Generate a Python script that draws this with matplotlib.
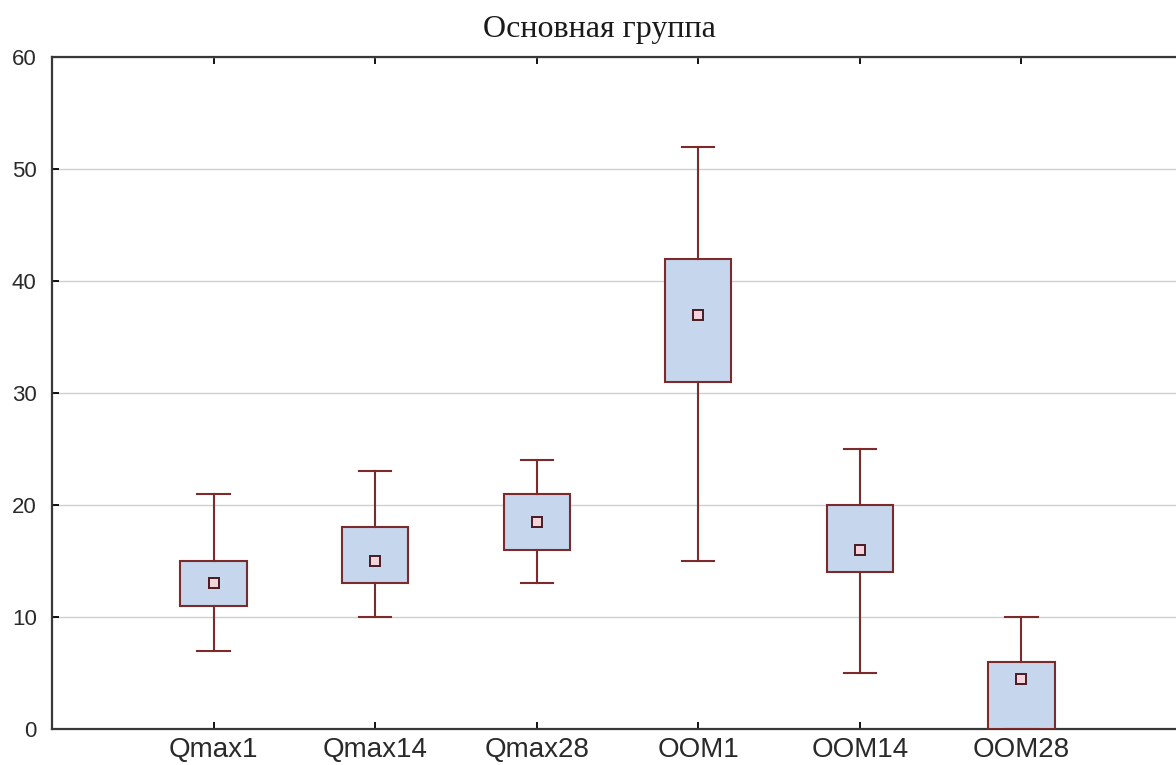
import matplotlib.pyplot as plt

labels = ['Qmax1', 'Qmax14', 'Qmax28', 'OOM1', 'OOM14', 'OOM28']
mins = [7, 10, 13, 15, 5, 0]
q1 = [11, 13, 16, 31, 14, 0]
medians = [13, 15, 18.5, 37, 16, 4.5]
q3 = [15, 18, 21, 42, 20, 6]
maxs = [21, 23, 24, 52, 25, 10]

edge = '#7b2b2b'

fig = plt.figure(figsize=(11.76, 7.65), dpi=100)
# the axes run a little past the right edge, as in the cropped original
ax = fig.add_axes([52 / 1176, 36 / 765, 1131 / 1176, 672 / 765])

stats = []
for i in range(len(labels)):
    stats.append({'label': labels[i], 'whislo': mins[i], 'q1': q1[i], 'med': medians[i],
                  'q3': q3[i], 'whishi': maxs[i]})

pos = list(range(1, len(labels) + 1))
ax.bxp(stats, positions=pos, widths=0.41, patch_artist=True, showfliers=False,
       boxprops=dict(facecolor='#c6d6ec', edgecolor=edge, linewidth=1.5),
       whiskerprops=dict(color=edge, linewidth=1.5),
       capprops=dict(color=edge, linewidth=1.5),
       medianprops=dict(linewidth=0),
       capwidths=0.2, zorder=3)
ax.plot(pos, medians, 's', markersize=7.5, markerfacecolor='#f4d4dc',
        markeredgecolor='#4a1a22', markeredgewidth=1.4, linestyle='none', zorder=4)

ax.set_xlim(0, 7)
ax.set_ylim(0, 60)
ax.set_yticks(range(0, 61, 10))
ax.set_xticks(pos)
ax.set_xticklabels(labels, fontsize=20, family='Liberation Sans', color='#2a2a2a')
for t in ax.get_yticklabels():
    t.set_fontsize(16)
    t.set_family('Liberation Sans')
    t.set_color('#2a2a2a')
ax.yaxis.grid(True, color='#d0d0d0', linewidth=1)
ax.set_axisbelow(True)
ax.tick_params(direction='in', length=5, width=1.3, top=True)
ax.tick_params(axis='y', pad=11)
ax.tick_params(axis='x', pad=6)
for s in ax.spines.values():
    s.set_linewidth(1.6)
    s.set_color('#383838')

fig.text(599 / 1176, 1 - 37 / 765, 'Основная группа', fontsize=23,
         family='Liberation Serif', ha='center', va='baseline', color='#1a1a1a')

fig.savefig('out.png', dpi=100)
